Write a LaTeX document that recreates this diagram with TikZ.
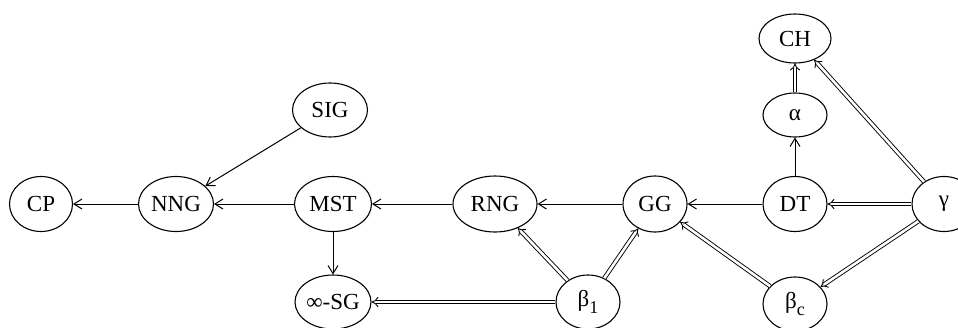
\documentclass[tikz,border=0pt]{standalone}
\usepackage{fontspec}
\setmainfont{Liberation Serif}
\usetikzlibrary{shapes.geometric,arrows.meta}
\newcommand{\bsub}[1]{β\raisebox{-0.3em}{\fontsize{18}{18}\selectfont #1}}
\begin{document}
\begin{tikzpicture}[x=1pt,y=-1pt,
  nd/.style={ellipse, draw, line width=1.1pt, inner sep=0pt, font=\fontsize{23}{27}\selectfont},
  sarr/.style={line width=1pt, -{Straight Barb[length=8pt,width=10pt]}},
  darr/.style={line width=0.9pt, double, double distance=2.6pt, -{Implies[length=7pt]}},
]
\useasboundingbox (0,0) rectangle (958,327);
\clip (0,0) rectangle (958,327);
\node[nd, minimum width=63pt, minimum height=55pt] (cp)  at (41,204)  {CP};
\node[nd, minimum width=75pt, minimum height=55pt] (nng) at (176,204) {NNG};
\node[nd, minimum width=75pt, minimum height=54pt] (sig) at (330,110) {SIG};
\node[nd, minimum width=77pt, minimum height=55pt] (mst) at (333,204) {MST};
\node[nd, minimum width=76pt, minimum height=54pt] (inf) at (333,302) {∞-SG};
\node[nd, minimum width=84pt, minimum height=56pt] (rng) at (495,204) {RNG};
\node[nd, minimum width=64pt, minimum height=56pt] (gg)  at (655,204) {GG};
\node[nd, minimum width=64pt, minimum height=54pt] (b1)  at (588,302) {\bsub{1}};
\node[nd, minimum width=64pt, minimum height=55pt] (dt)  at (795,204) {DT};
\node[nd, minimum width=64pt, minimum height=44pt] (al)  at (795,115) {α};
\node[nd, minimum width=72pt, minimum height=49pt] (ch)  at (795,38.5) {CH};
\node[nd, minimum width=64pt, minimum height=55pt] (ga)  at (944,204) {γ};
\node[nd, minimum width=64pt, minimum height=54pt] (bc)  at (795,304) {\bsub{c}};

\draw[sarr] (nng) -- (cp);
\draw[sarr] (sig) -- (nng);
\draw[sarr] (mst) -- (nng);
\draw[sarr] (rng) -- (mst);
\draw[sarr] (gg) -- (rng);
\draw[sarr] (dt) -- (gg);
\draw[sarr] (dt) -- (al);
\draw[sarr] (mst) -- (inf);
\draw[darr] (al) -- (ch);
\draw[darr] (ga) -- (ch);
\draw[darr] (ga) -- (dt);
\draw[darr] (ga) -- (bc);
\draw[darr] (bc) -- (gg);
\draw[darr] (b1) -- (gg);
\draw[darr] (b1) -- (rng);
\draw[darr] (b1) -- (inf);
\end{tikzpicture}
\end{document}
